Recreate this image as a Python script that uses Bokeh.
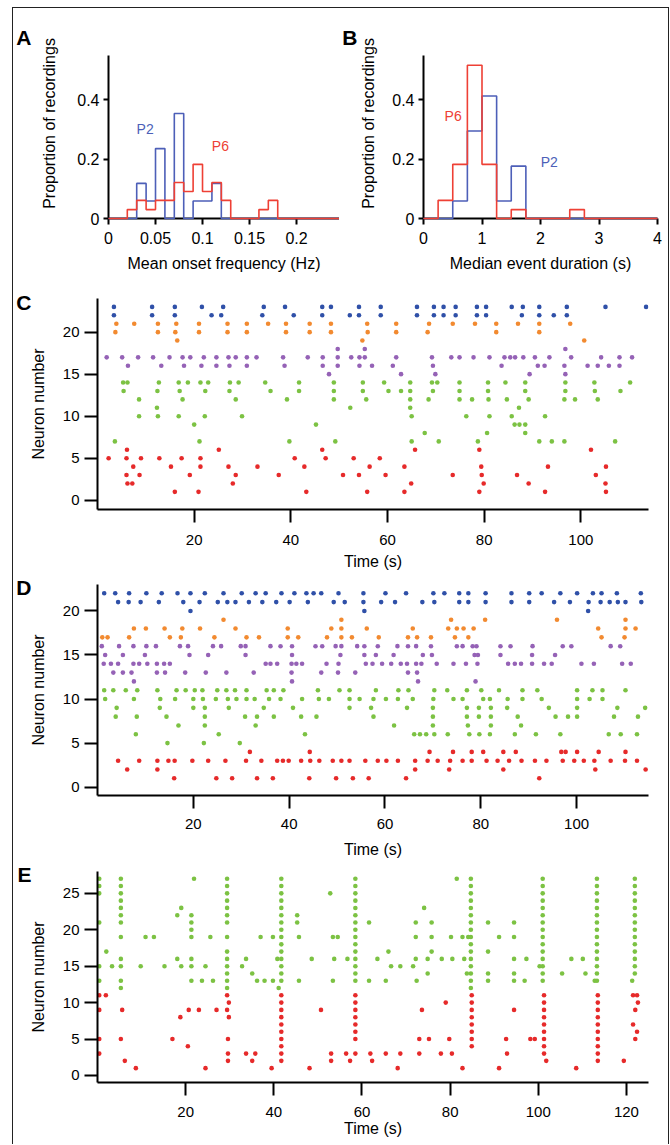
from bokeh.plotting import figure
from bokeh.layouts import column, row
from bokeh.models import (FixedTicker, NumeralTickFormatter, Label, ColumnDataSource, Range1d,
                          LinearAxis, CustomJSTickFormatter)
from bokeh.embed import file_html
from bokeh.resources import INLINE

FONT = "Liberation Sans"

# ---------------- Panel A: mean onset frequency histogram ----------------
a_edges = [round(i * 0.01, 2) for i in range(26)]
a_p2 = [0, 0, 0, 0.118, 0.059, 0.235, 0, 0.353, 0, 0.059, 0.059, 0.118, 0,
        0, 0, 0, 0, 0, 0, 0, 0, 0, 0, 0, 0]
a_p6 = [0, 0, 0.030, 0.061, 0.030, 0.061, 0.061, 0.121, 0.091, 0.182, 0.091, 0.121, 0.061,
        0, 0, 0, 0.030, 0.061, 0, 0, 0, 0, 0, 0, 0]

# ---------------- Panel B: median event duration histogram ----------------
b_edges = [i * 0.25 for i in range(17)]
b_p2 = [0, 0, 0.059, 0.294, 0.412, 0.059, 0.176, 0, 0, 0, 0, 0, 0, 0, 0, 0]
b_p6 = [0, 0.061, 0.182, 0.515, 0.182, 0, 0.030, 0, 0, 0, 0.030, 0, 0, 0, 0, 0]

HIST_BLUE = "#4d5fb8"
HIST_RED = "#ee4035"

# ---------------- Raster colours ----------------
BLUE = "#2f50a8"
ORANGE = "#f28a30"
PURPLE = "#9562b6"
GREEN = "#7cc243"
RED = "#e62a2a"

# ---------------- Panel C spikes (neuron -> event times, s) ----------------
c_spikes = {
    23: [3.4, 11.3, 16.0, 21.6, 26.0, 34.4, 38.8, 46.5, 48.3, 54.1, 58.6, 66.1, 69.6, 71.6, 74.1, 78.5, 80.4, 85.7, 88.0, 91.4, 97.1, 105.1, 113.5],
    22: [3.4, 11.3, 16.0, 23.6, 25.6, 34.1, 40.6, 46.5, 52.2, 54.1, 58.6, 66.1, 69.6, 71.6, 74.1, 78.5, 80.4, 87.8, 91.4, 94.4, 97.1],
    21: [3.9, 7.6, 12.5, 16.3, 21.0, 26.9, 30.9, 35.3, 39.0, 43.9, 48.3, 55.8, 61.8, 68.6, 73.5, 78.1, 82.5, 87.0, 91.4, 97.8],
    20: [3.7, 12.5, 16.1, 21.0, 26.9, 30.9, 39.0, 43.9, 48.3, 55.9, 61.8, 68.3, 82.5, 91.4],
    19: [16.5, 54.8, 100.7],
    18: [49.7, 55.3, 96.8],
    17: [1.9, 5.1, 8.4, 11.5, 14.9, 17.6, 19.2, 22.0, 24.6, 27.1, 28.6, 30.9, 32.9, 38.4, 43.5, 46.6, 49.7, 52.5, 54.2, 55.3, 61.8, 69.2, 73.2, 74.9, 77.8, 81.1, 84.2, 85.4, 86.4, 88.1, 90.5, 93.5, 98.0, 104.2, 108.0, 110.6],
    16: [6.3, 13.2, 17.9, 21.5, 24.6, 27.3, 30.9, 38.7, 46.6, 49.7, 54.2, 56.8, 61.1, 69.4, 83.6, 91.1, 92.5, 96.6, 101.4, 103.5, 105.8, 108.0],
    15: [47.9, 62.8, 69.9, 89.4, 96.8],
    14: [5.3, 6.2, 12.7, 16.8, 18.7, 21.3, 22.9, 27.4, 29.2, 34.7, 41.7, 48.9, 54.9, 59.3, 64.7, 69.2, 70.3, 74.9, 80.8, 84.4, 88.5, 96.8, 102.8, 110.2],
    13: [5.4, 12.4, 17.0, 22.3, 27.3, 35.8, 41.7, 48.9, 54.9, 60.2, 62.8, 64.7, 69.4, 74.9, 80.8, 88.5, 96.8, 102.9, 108.2],
    12: [8.6, 17.6, 28.6, 39.2, 48.9, 55.6, 64.7, 68.5, 74.9, 77.5, 80.9, 84.7, 89.2, 96.6, 98.8, 103.5],
    11: [12.3, 52.3, 64.7, 87.2],
    10: [8.6, 12.5, 16.8, 22.2, 29.9, 65.0, 76.3, 81.1, 85.7, 92.6],
    9: [20.0, 45.2, 86.3, 87.3, 88.5],
    8: [67.7, 80.6, 88.5],
    7: [3.6, 21.1, 39.7, 49.2, 65.0, 70.6, 78.7, 91.4, 94.0, 96.6, 107.1],
    6: [6.1, 25.1, 46.5, 65.7, 79.0, 102.1],
    5: [2.3, 6.0, 9.0, 12.8, 17.4, 21.3, 40.8, 47.2, 53.0, 58.4],
    4: [7.4, 15.2, 21.3, 27.1, 33.1, 42.8, 56.3, 63.5, 79.4, 93.2, 105.2],
    3: [6.0, 8.7, 19.1, 28.6, 37.5, 50.8, 54.1, 59.6, 73.5, 79.5, 86.8, 103.1],
    2: [6.2, 7.2, 28.0, 64.9, 79.9, 89.2, 105.1],
    1: [16.0, 20.9, 43.2, 55.8, 63.5, 79.0, 92.6, 105.2],
}
c_groups = [(22, 23, BLUE), (19, 21, ORANGE), (15, 18, PURPLE), (7, 14, GREEN), (1, 6, RED)]

# ---------------- Panel D spikes ----------------
d_spikes = {
    22: [1.4, 3.7, 6.6, 10.2, 13.4, 16.7, 19.4, 22.4, 26.3, 30.1, 33.0, 35.1, 38.4, 41.1, 43.6, 45.1, 46.7, 50.3, 55.5, 60.1, 64.4, 70.1, 72.4, 75.5, 77.4, 81.0, 86.4, 90.1, 92.7, 96.6, 100.1, 103.4, 105.2, 108.4, 113.4],
    21: [4.3, 6.5, 9.0, 12.8, 17.9, 21.3, 25.1, 27.1, 28.8, 31.6, 34.4, 37.3, 40.1, 43.9, 49.3, 51.6, 55.5, 59.2, 62.1, 67.8, 70.3, 75.5, 77.4, 81.0, 86.4, 90.1, 95.3, 98.6, 102.5, 105.0, 106.9, 108.6, 110.2, 113.5],
    20: [19.4, 55.7, 102.4],
    19: [26.3, 50.9, 73.8, 80.9, 95.9, 110.2],
    18: [7.6, 10.1, 14.0, 17.7, 21.4, 28.8, 39.7, 48.8, 50.9, 56.2, 65.8, 73.2, 75.0, 76.4, 78.5, 104.5, 110.2, 112.3],
    17: [1.0, 2.1, 6.6, 15.1, 17.4, 24.4, 31.1, 33.7, 39.7, 41.9, 47.9, 50.9, 53.1, 58.7, 64.8, 66.7, 69.6, 74.6, 77.4, 105.2, 110.0],
    16: [0.9, 4.5, 7.5, 10.2, 12.2, 17.2, 18.9, 24.1, 25.8, 29.9, 30.9, 36.1, 38.2, 40.6, 45.5, 46.9, 49.7, 50.9, 54.2, 55.7, 58.5, 62.6, 64.8, 66.5, 69.6, 75.0, 76.2, 78.3, 79.1, 84.1, 86.2, 90.8, 97.1, 98.9, 107.1, 109.1],
    15: [1.6, 5.3, 9.9, 19.2, 23.1, 30.9, 40.6, 50.7, 55.7, 58.1, 61.8, 67.9, 69.8, 78.7, 79.4, 84.1, 90.7, 95.5],
    14: [1.3, 2.8, 4.3, 7.5, 8.7, 10.4, 12.4, 13.9, 15.1, 35.1, 36.1, 37.5, 40.5, 41.5, 42.7, 47.8, 50.3, 56.0, 57.4, 59.4, 61.3, 63.3, 64.6, 66.5, 67.6, 70.8, 74.3, 76.9, 79.3, 85.7, 87.1, 88.4, 90.7, 93.2, 94.8, 101.0, 103.6, 109.5, 111.3],
    13: [3.3, 5.3, 7.1, 12.4, 14.1, 18.3, 22.6, 26.9, 32.6, 40.5, 46.7, 50.2, 53.8, 64.8, 66.7],
    12: [7.6, 40.6, 66.9, 78.9],
    11: [1.4, 3.3, 5.9, 8.3, 12.5, 16.5, 18.4, 20.3, 21.9, 25.0, 26.9, 28.7, 31.1, 35.3, 36.8, 38.8, 46.0, 50.5, 52.6, 58.1, 62.8, 64.9, 70.3, 73.0, 77.1, 80.1, 83.8, 88.7, 91.8, 100.1, 103.3, 105.4, 110.2],
    10: [1.6, 7.6, 13.1, 16.2, 20.0, 22.0, 24.7, 27.2, 29.0, 31.1, 32.8, 35.8, 38.2, 42.7, 46.2, 48.3, 52.6, 54.7, 57.6, 60.2, 62.7, 65.8, 70.1, 74.3, 76.2, 80.5, 81.9, 85.6, 88.7, 92.7, 100.1, 102.7, 105.4],
    9: [4.0, 13.0, 20.0, 22.4, 27.4, 34.7, 40.8, 52.6, 57.1, 64.6, 70.0, 77.1, 79.6, 82.1, 85.5, 94.2, 100.1, 108.5, 114.3],
    8: [3.8, 8.2, 14.4, 22.4, 30.8, 33.3, 36.8, 42.5, 45.7, 57.6, 70.0, 77.1, 79.6, 82.1, 87.7, 95.6, 98.2, 100.1, 107.8, 112.8],
    7: [16.9, 22.4, 33.0, 61.9, 70.0, 77.3, 82.1, 88.4],
    6: [8.0, 25.3, 43.3, 66.1, 67.3, 68.6, 70.3, 73.1, 77.6, 79.7, 81.9, 87.1, 91.5, 96.6, 106.7, 109.2, 112.6],
    5: [14.6, 22.2, 29.7],
    4: [31.8, 44.3, 69.3, 74.2, 78.1, 80.5, 84.7, 87.3, 96.8, 97.7, 100.1, 104.6, 110.2],
    3: [4.3, 8.7, 12.5, 14.8, 16.1, 19.8, 23.1, 26.7, 31.0, 34.2, 37.5, 38.7, 39.9, 42.5, 44.4, 46.3, 49.1, 50.9, 52.6, 55.9, 58.5, 60.3, 62.7, 66.3, 68.9, 71.0, 73.6, 76.2, 78.1, 81.2, 83.5, 85.9, 88.5, 91.3, 93.7, 97.1, 99.5, 101.5, 103.7, 107.1, 110.1, 112.6],
    2: [6.2, 12.5, 66.3, 73.4, 84.7, 103.9, 114.4],
    1: [16.0, 24.8, 28.1, 33.3, 36.6, 44.2, 49.8, 53.3, 56.6, 64.4, 92.2],
}
d_groups = [(20, 22, BLUE), (17, 19, ORANGE), (12, 16, PURPLE), (5, 11, GREEN), (1, 4, RED)]

# ---------------- Panel E spikes ----------------
e_spikes = {
    27: [0.4, 5.3, 21.9, 29.4, 41.7, 58.5, 81.5, 84.7, 101.0, 113.3, 121.9],
    26: [0.4, 5.3, 29.4, 41.7, 58.5, 84.7, 101.0, 113.3, 121.9],
    25: [0.4, 5.3, 29.4, 41.7, 52.8, 58.5, 84.7, 101.0, 113.3, 121.9],
    24: [5.3, 29.4, 41.7, 58.5, 84.7, 101.0, 113.3, 121.9],
    23: [5.3, 19.0, 29.4, 41.7, 58.5, 74.1, 84.7, 101.0, 113.3, 121.9],
    22: [5.3, 18.1, 21.3, 29.4, 41.7, 45.3, 58.5, 84.7, 101.0, 113.3, 121.9],
    21: [0.4, 5.3, 21.3, 29.4, 41.7, 45.3, 58.5, 61.6, 72.2, 75.8, 84.7, 88.6, 94.5, 101.0, 113.3, 121.9],
    20: [21.3, 41.7, 58.5, 84.7, 101.0, 113.3, 121.9],
    19: [5.3, 10.9, 12.8, 21.3, 25.6, 29.4, 37.0, 39.8, 41.7, 45.7, 53.4, 54.5, 58.5, 72.2, 75.8, 80.2, 82.8, 84.1, 84.7, 91.1, 94.5, 101.0, 113.3, 121.9],
    18: [41.7, 58.5, 84.7, 101.0, 113.3, 121.9],
    17: [2.0, 29.4, 41.7, 58.5, 66.0, 75.8, 84.7, 88.6, 101.0, 113.3, 121.9],
    16: [5.3, 18.1, 21.3, 29.4, 33.7, 40.8, 41.7, 48.6, 53.7, 56.7, 58.5, 63.5, 72.2, 74.9, 78.1, 80.5, 83.2, 84.7, 94.5, 97.3, 101.0, 107.5, 110.1, 113.3, 121.9],
    15: [0.4, 3.3, 5.3, 9.8, 15.2, 19.0, 21.3, 24.5, 29.4, 32.8, 41.7, 58.5, 66.6, 68.7, 71.6, 84.7, 100.3, 101.0, 113.3, 121.9],
    14: [29.4, 35.1, 41.7, 58.5, 74.9, 83.8, 84.7, 88.6, 94.5, 101.0, 105.4, 110.7, 113.3, 121.9],
    13: [0.4, 5.3, 21.3, 23.7, 26.2, 29.4, 36.2, 37.9, 39.8, 41.7, 45.7, 53.4, 58.5, 61.6, 65.4, 72.4, 84.7, 88.6, 94.5, 96.9, 101.0, 112.8, 113.3, 121.3],
    12: [5.3, 29.4, 41.1, 84.7],
    11: [0.4, 1.9, 29.4, 41.7, 58.5, 84.9, 101.3, 113.5, 121.5, 122.4],
    10: [29.8, 41.7, 58.5, 79.0, 84.9, 101.3, 113.5, 122.6],
    9: [0.4, 5.6, 20.7, 23.0, 27.0, 29.4, 41.7, 50.7, 58.5, 73.6, 84.9, 94.5, 101.3, 113.5, 122.0],
    8: [18.8, 29.8, 41.7, 58.5, 84.9, 101.3, 113.5],
    7: [41.7, 58.5, 84.9, 101.3, 113.5, 121.5],
    6: [41.7, 58.5, 84.9, 101.3, 113.5, 122.4],
    5: [0.4, 5.3, 17.0, 29.6, 41.7, 58.5, 73.0, 75.2, 79.8, 84.9, 92.7, 98.2, 99.2, 101.3, 113.5, 122.0],
    4: [20.5, 41.7, 84.9, 101.3, 113.5],
    3: [0.4, 29.6, 33.7, 35.8, 41.7, 53.0, 56.4, 58.5, 61.9, 65.4, 68.7, 73.0, 77.9, 80.4, 92.9, 101.3, 113.5],
    2: [6.2, 29.6, 35.1, 41.7, 53.0, 57.3, 62.3, 101.8, 113.5, 119.4],
    1: [8.7, 24.5, 39.5, 48.1, 68.1, 82.8, 91.1, 108.6],
}
e_groups = [(12, 27, GREEN), (1, 11, RED)]

hist_x_ticks_a = [0, 0.05, 0.1, 0.15, 0.2]
hist_x_ticks_b = [0, 1, 2, 3, 4]
hist_y_ticks = [0, 0.2, 0.4]
raster_x_ticks_cd = [20, 40, 60, 80, 100]
raster_x_ticks_e = [20, 40, 60, 80, 100, 120]
raster_y_ticks_cd = [0, 5, 10, 15, 20]
raster_y_ticks_e = [0, 5, 10, 15, 20, 25]


def style_axes(p, xtick_out, ytick_out, tick_font, xstand, ystand, xlab_stand, ylab_stand):
    for ax, out, st, lst in ((p.xaxis[0], xtick_out, xstand, xlab_stand),
                             (p.yaxis[0], ytick_out, ystand, ylab_stand)):
        ax.axis_line_width = 2
        ax.axis_line_color = "black"
        ax.major_tick_line_width = 2
        ax.major_tick_line_color = "black"
        ax.major_tick_in = 0
        ax.major_tick_out = out
        ax.minor_tick_line_color = None
        ax.major_label_standoff = st
        ax.axis_label_standoff = lst
        ax.major_label_text_font = FONT
        ax.major_label_text_font_size = tick_font
        ax.major_label_text_color = "black"
        ax.axis_label_text_font = FONT
        ax.axis_label_text_font_size = "16px"
        ax.axis_label_text_font_style = "normal"
        ax.axis_label_text_color = "black"
    p.grid.visible = False
    p.outline_line_color = None
    p.background_fill_color = "white"
    p.border_fill_color = "white"


def letter_axis(p, letter, letter_y, standoff):
    # panel letter rendered as the single label of an extra, line-less left axis
    lax = LinearAxis(ticker=FixedTicker(ticks=[letter_y]),
                     formatter=CustomJSTickFormatter(code="return '%s'" % letter),
                     axis_line_color=None, major_tick_line_color=None, minor_tick_line_color=None,
                     major_tick_in=0, major_tick_out=0, major_label_standoff=standoff,
                     major_label_text_font=FONT, major_label_text_font_size="21px",
                     major_label_text_font_style="bold", major_label_text_color="black")
    p.add_layout(lax, "left")


def hist_figure(width, left, right, x_end, edges, p2, p6, xticks, xfmt, xlabel, ylab_stand,
                letter, letter_stand):
    # frame reaches above the y axis so the panel letter can sit beside it
    p = figure(width=width, height=270, x_range=Range1d(0, x_end), y_range=Range1d(0, 0.6388),
               min_border_left=left, min_border_right=right, min_border_top=20, min_border_bottom=60,
               output_backend="svg", toolbar_location=None,
               x_axis_label=xlabel, y_axis_label="Proportion of recordings")
    for vals, col in ((p2, HIST_BLUE), (p6, HIST_RED)):
        src = ColumnDataSource(dict(x=edges, y=list(vals) + [vals[-1]]))
        r = p.step("x", "y", source=src, mode="after", line_color=col, line_width=1.6)
        r.level = "overlay"
    p.xaxis.ticker = FixedTicker(ticks=xticks)
    p.xaxis.formatter = NumeralTickFormatter(format=xfmt)
    p.yaxis.ticker = FixedTicker(ticks=hist_y_ticks)
    p.yaxis.formatter = NumeralTickFormatter(format="0.[0]")
    p.yaxis.bounds = (0, 0.548)
    style_axes(p, 6, 5, "16px", 7, 4, 8, ylab_stand)
    letter_axis(p, letter, 0.608, letter_stand)
    return p


def hist_label(p, x, y, txt, col):
    p.add_layout(Label(x=x, y=y, text=txt, text_font=FONT, text_font_size="14px",
                       text_color=col, text_align="center", text_baseline="middle"))


pa = hist_figure(326, 95, 0, 0.2457, a_edges, a_p2, a_p6, hist_x_ticks_a, "0.[00]",
                 "Mean onset frequency (Hz)", 16, "A", 7)
hist_label(pa, 0.039, 0.30, "P2", HIST_BLUE)
hist_label(pa, 0.119, 0.245, "P6", HIST_RED)

pb = hist_figure(329, 83, 11, 4, b_edges, b_p2, b_p6, hist_x_ticks_b, "0",
                 "Median event duration (s)", 12, "B", 0)
hist_label(pb, 0.506, 0.346, "P6", HIST_RED)
hist_label(pb, 2.15, 0.19, "P2", HIST_BLUE)


def raster_figure(height, top, bottom, x_end, y_range, spikes, groups, xticks, yticks,
                  xstand, xlab_stand, letter, letter_y):
    p = figure(width=655, height=height, x_range=Range1d(0, x_end), y_range=Range1d(*y_range),
               min_border_left=83, min_border_right=20, min_border_top=top, min_border_bottom=bottom,
               output_backend="svg", toolbar_location=None,
               x_axis_label="Time (s)", y_axis_label="Neuron number")
    xs, ys, cs = [], [], []
    for lo, hi, col in groups:
        for n in range(lo, hi + 1):
            for t in spikes.get(n, []):
                xs.append(t)
                ys.append(n)
                cs.append(col)
    src = ColumnDataSource(dict(x=xs, y=ys, c=cs))
    p.scatter("x", "y", source=src, size=4.6, fill_color="c", line_color=None)
    p.xaxis.ticker = FixedTicker(ticks=xticks)
    p.yaxis.ticker = FixedTicker(ticks=yticks)
    style_axes(p, 13, 13, "15px", xstand, 5, xlab_stand, 13)
    letter_axis(p, letter, letter_y, -5)
    return p


pc = raster_figure(297, 20, 66, 114, (-1.1, 24), c_spikes, c_groups,
                   raster_x_ticks_cd, raster_y_ticks_cd, 12, 5, "C", 23.55)

pd_ = raster_figure(287, 9, 67, 115, (-0.95, 23.0), d_spikes, d_groups,
                    raster_x_ticks_cd, raster_y_ticks_cd, 10, 9, "D", 22.8)

pe = raster_figure(282, 9, 62, 125, (-0.97, 28), e_spikes, e_groups,
                   raster_x_ticks_e, raster_y_ticks_e, 11, 0, "E", 27.7)

layout = column(row(pa, pb), pc, pd_, pe, margin=(7, 0, 0, 12),
                styles={"border-left": "1px solid #222", "border-top": "1px solid #222",
                        "border-right": "1px solid #222"})

open("out.html", "w").write(file_html(layout, INLINE))
